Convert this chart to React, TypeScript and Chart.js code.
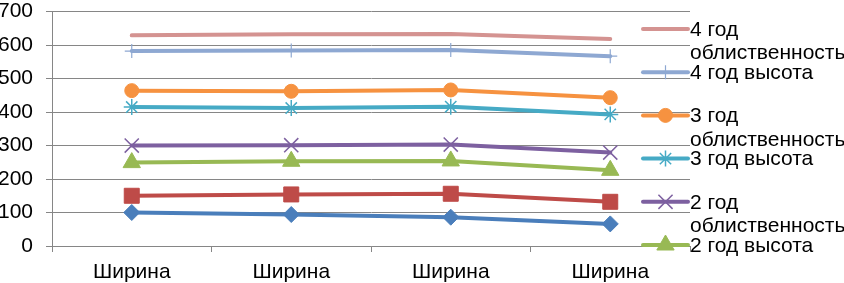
import React, { useEffect, useRef } from 'react';
import { Chart, registerables } from 'chart.js';
import { drawPoint } from 'chart.js/helpers';

Chart.register(...registerables);

const categories = ['Ширина', 'Ширина', 'Ширина', 'Ширина'];

const seriesNames = [
  '1 год высота',
  '1 год облиственность',
  '2 год высота',
  '2 год облиственность',
  '3 год высота',
  '3 год облиственность',
  '4 год высота',
  '4 год облиственность',
];

const height1 = [100, 94, 86, 66];
const leaf1 = [150, 154, 156, 132];
const height2 = [249, 253, 254, 226];
const leaf2 = [300, 301, 303, 279];
const height3 = [415, 412, 416, 393];
const leaf3 = [464, 462, 466, 443];
const height4 = [582, 584, 585, 567];
const leaf4 = [629, 632, 633, 618];

const seriesValues = [height1, leaf1, height2, leaf2, height3, leaf3, height4, leaf4];

const colors = ['#4A7EBB', '#BE4B48', '#98B954', '#7D60A0', '#46AAC5', '#F69240', '#8EA8D2', '#D49391'];
const markers = ['rectRot', 'rect', 'triangle', 'crossRot', 'star', 'circle', 'cross', 'circle'];
const markerRadius = [8, 10.6, 10, 10, 8, 7, 7, 0];
const markerBorder = [1, 1, 1, 1.5, 1.5, 1, 1.2, 1];

const yMin = 0;
const yMax = 700;
const yStep = 100;

const FONT = "'Liberation Sans', Arial, sans-serif";
const FONT_SIZE = 21;

const legendPlugin = {
  id: 'excelLegend',
  afterDraw(chart: any) {
    const ctx = chart.ctx as CanvasRenderingContext2D;
    const area = chart.chartArea;
    const sampleLeft = area.right - 47;
    const sampleRight = area.right - 2;
    const textX = area.right;
    const maxW = chart.width - textX;
    const startY = 29;
    const step = 43.2;
    const lineH = 23.4;
    ctx.save();
    ctx.font = `${FONT_SIZE}px ${FONT}`;
    const ds = chart.data.datasets;
    let k = 0;
    for (let i = ds.length - 1; i >= 0; i--, k++) {
      const d = ds[i];
      const y = startY + k * step;
      if (y > chart.height - 8) break;
      ctx.lineCap = 'round';
      ctx.strokeStyle = d.borderColor;
      ctx.lineWidth = d.borderWidth;
      ctx.beginPath();
      ctx.moveTo(sampleLeft, y);
      ctx.lineTo(sampleRight, y);
      ctx.stroke();
      ctx.lineCap = 'butt';
      ctx.fillStyle = d.pointBackgroundColor;
      ctx.strokeStyle = d.pointBorderColor;
      ctx.lineWidth = d.pointBorderWidth;
      drawPoint(ctx, { pointStyle: d.pointStyle, rotation: 0, radius: d.pointRadius, borderWidth: d.pointBorderWidth }, (sampleLeft + sampleRight) / 2, y);
      const words = String(d.label).split(' ');
      const lines: string[] = [];
      let cur = '';
      for (const w of words) {
        const test = cur ? cur + ' ' + w : w;
        if (cur && ctx.measureText(test).width > maxW) {
          lines.push(cur);
          cur = w;
        } else {
          cur = test;
        }
      }
      if (cur) lines.push(cur);
      ctx.fillStyle = '#000000';
      ctx.textAlign = 'left';
      ctx.textBaseline = 'middle';
      lines.forEach((ln, j) => ctx.fillText(ln, textX, y + 1 + j * lineH));
    }
    ctx.restore();
  },
};

export default function App() {
  const ref = useRef<HTMLCanvasElement | null>(null);

  useEffect(() => {
    document.body.style.margin = '0';
    const canvas = ref.current;
    if (!canvas) return;
    const datasets = seriesValues.map((vals, i) => ({
      label: seriesNames[i],
      data: vals,
      borderColor: colors[i],
      backgroundColor: colors[i],
      borderWidth: 4,
      borderCapStyle: 'round',
      borderJoinStyle: 'round',
      tension: 0,
      fill: false,
      pointStyle: markers[i],
      pointRadius: markerRadius[i],
      pointHoverRadius: markerRadius[i],
      pointBackgroundColor: colors[i],
      pointBorderColor: colors[i],
      pointBorderWidth: markerBorder[i],
    }));

    const chart = new Chart(canvas, {
      type: 'line',
      data: { labels: categories, datasets: datasets as any },
      plugins: [legendPlugin],
      options: {
        animation: false,
        responsive: false,
        devicePixelRatio: 1,
        layout: { padding: { left: 0, right: 154, top: 8, bottom: 0 } },
        plugins: {
          legend: { display: false },
          tooltip: { enabled: false },
          title: { display: false },
        },
        scales: {
          x: {
            type: 'category',
            offset: true,
            grid: {
              display: true,
              offset: true,
              drawOnChartArea: false,
              drawTicks: true,
              tickLength: 6,
              color: '#868686',
              lineWidth: 1,
            },
            border: { display: true, color: '#868686', width: 1 },
            ticks: {
              color: '#000000',
              font: { family: FONT, size: FONT_SIZE },
              padding: 8,
              maxRotation: 0,
              autoSkip: false,
            },
            afterFit: (scale: any) => {
              scale.height = 283 - 246;
              scale.paddingLeft = 0;
              scale.paddingRight = 0;
            },
          },
          y: {
            type: 'linear',
            min: yMin,
            max: yMax,
            ticks: {
              stepSize: yStep,
              color: '#000000',
              font: { family: FONT, size: FONT_SIZE },
              padding: 13,
            },
            grid: {
              color: '#868686',
              lineWidth: 1,
              drawTicks: true,
              tickLength: 6,
            },
            border: { display: true, color: '#868686', width: 1 },
            afterFit: (scale: any) => {
              scale.width = 52;
              scale.paddingTop = 0;
              scale.paddingBottom = 0;
            },
          },
        },
      },
    });
    return () => chart.destroy();
  }, []);

  return (
    <div style={{ width: 844, height: 283, position: 'relative', background: '#ffffff' }}>
      <canvas ref={ref} width={844} height={283} style={{ display: 'block' }} />
    </div>
  );
}
